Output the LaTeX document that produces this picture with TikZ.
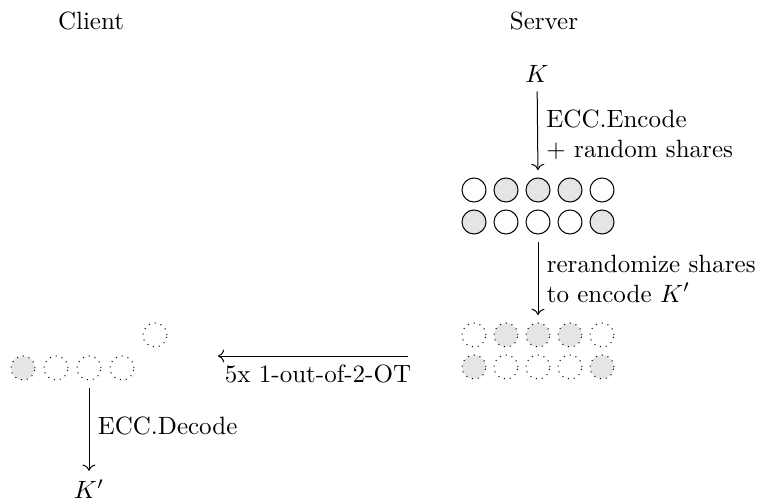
\documentclass[tikz,border=0pt]{standalone}
\usetikzlibrary{arrows.meta}
\begin{document}
\begin{tikzpicture}[x=0.4pt,y=-0.4pt,
  share/.style={circle,draw,minimum size=24*0.4pt,inner sep=0pt},
  masked/.style={share,dotted},
  on/.style={fill=gray!20},
  flow/.style={->,shorten <=3pt,shorten >=3pt},
  lbl/.style={right,align=left}]
\useasboundingbox (0,0) rectangle (759,500);

% column headers
\node (client) at (91,21) {Client};
\node (server) at (544,21) {Server};

% server: key, encoded shares and rerandomized shares
\node (K) at (537,74) {$K$};
\foreach \i/\x/\a/\b in {1/474//on,2/506/on/,3/538/on/,4/570/on/,5/602//on}{
  \node[share,\a] (s1\i) at (\x,190) {};
  \node[share,\b] (s2\i) at (\x,222) {};
  \node[masked,\a] (d1\i) at (\x,335) {};
  \node[masked,\b] (d2\i) at (\x,367) {};
}

\draw[->,shorten >=3pt] (K) -- (s13.north)
  node[lbl,midway] {ECC.Encode\\+ random shares};
\draw[flow] (s23.south) -- (d13.north)
  node[lbl,midway] {rerandomize shares\\to encode $K'$};

% oblivious transfer
\coordinate (otR) at (408,356);
\coordinate (otL) at (218,356);
\draw[->] (otR) -- (otL) node[midway,below,xshift=2pt] {5x 1-out-of-2-OT};

% client: received shares
\node[masked,on] (c1) at (23,368) {};
\node[masked] (c2) at (56,368) {};
\node[masked] (c3) at (89,368) {};
\node[masked] (c4) at (122,368) {};
\node[masked] (c5) at (155,335) {};

\node (Kp) at (89,489) {$K'$};
\draw[->,shorten <=3pt] (c3.south) -- (Kp)
  node[lbl,midway] {ECC.Decode};
\end{tikzpicture}
\end{document}
